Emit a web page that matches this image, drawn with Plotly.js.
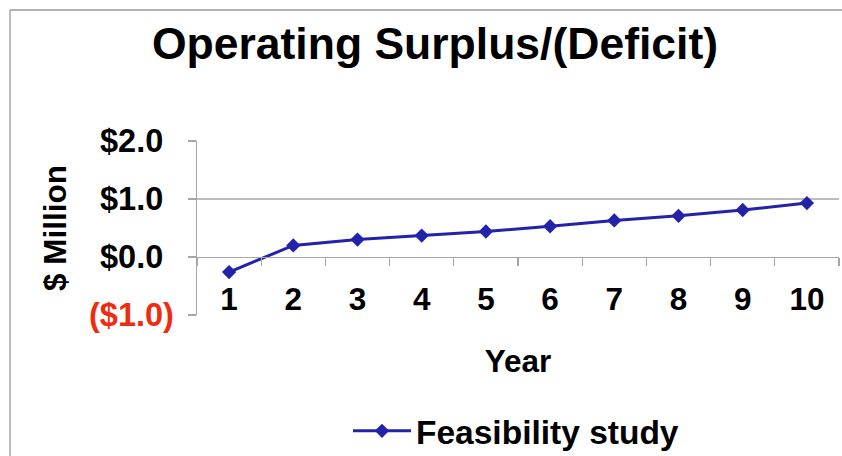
<!DOCTYPE html>
<html>
<head>
<meta charset="utf-8">
<script src="https://cdn.plot.ly/plotly-3.0.1.min.js"></script>
<style>html,body{margin:0;padding:0;background:#fff;}#chart{width:842px;height:456px;}</style>
</head>
<body>
<div id="chart"></div>
<script>
var years = ['1','2','3','4','5','6','7','8','9','10'];
var surplus = [-0.26, 0.20, 0.30, 0.37, 0.44, 0.53, 0.63, 0.71, 0.81, 0.93];
var seriesName = 'Feasibility study';
var yTickVals = [-1, 0, 1, 2];
var yTickText = ['($1.0)', '$0.0', '$1.0', '$2.0'];
var yTickColors = ['#F02C10', '#000000', '#000000', '#000000'];

var W = 842, H = 456;
var M = {l: 197, r: 3, t: 141, b: 141, autoexpand: false};
var pw = W - M.l - M.r, ph = H - M.t - M.b;
function px2x(px){ return (px - M.l) / pw; }
function py2y(py){ return (H - M.b - py) / ph; }

var FONT = 'Liberation Sans, Arial, Helvetica, sans-serif';
var GRAY = '#a6a6a6';

var trace = {
  x: years, y: surplus, type: 'scatter', mode: 'lines+markers', name: seriesName,
  line: {color: '#2222AA', width: 3},
  marker: {symbol: 'diamond', size: 11, color: '#2222AA'}
};

var annotations = yTickVals.map(function(v, i){
  return {xref: 'paper', yref: 'y', x: px2x(131), y: v, xanchor: 'center', yanchor: 'middle',
    text: yTickText[i], showarrow: false,
    font: {family: FONT, size: 32.5, weight: 'bold', color: yTickColors[i]}};
});

var layout = {
  width: W, height: H, margin: M,
  paper_bgcolor: '#fff', plot_bgcolor: '#fff',
  font: {family: FONT, color: '#000'},
  title: {text: 'Operating Surplus/(Deficit)', xref: 'container', yref: 'container',
    x: 435 / W, y: 1 - 43 / H, xanchor: 'center', yanchor: 'middle',
    font: {family: FONT, size: 44.5, weight: 'bold', color: '#000'}},
  xaxis: {
    type: 'category', range: [-0.5, years.length - 0.5], autorange: false,
    anchor: 'free', position: py2y(257),
    showline: true, linecolor: GRAY, linewidth: 1.3,
    ticks: 'outside', tickson: 'boundaries', ticklen: 8, tickcolor: GRAY, tickwidth: 1.3,
    showgrid: false, zeroline: false,
    tickfont: {family: FONT, size: 31.5, weight: 'bold', color: '#000'},
    ticklabelstandoff: 14,
    title: {text: 'Year', font: {family: FONT, size: 31.5, weight: 'bold', color: '#000'}, standoff: 34}
  },
  yaxis: {
    range: [-1, 2], tickvals: yTickVals, showticklabels: false,
    showline: true, linecolor: GRAY, linewidth: 1.3,
    ticks: 'outside', ticklen: 8, tickcolor: GRAY, tickwidth: 1.3,
    showgrid: false, zeroline: false,
    title: {text: '$ Million', font: {family: FONT, size: 31.5, weight: 'bold', color: '#000'}, standoff: 111}
  },
  showlegend: true,
  legend: {orientation: 'h', xref: 'container', yref: 'container', x: 348 / W, y: 1 - 431 / H,
    xanchor: 'left', yanchor: 'middle',
    itemwidth: 58, font: {family: FONT, size: 33.5, weight: 'bold', color: '#000'}, bgcolor: 'rgba(0,0,0,0)'},
  annotations: annotations,
  shapes: [
    {type: 'line', xref: 'paper', yref: 'y', x0: 0, x1: 1, y0: 1, y1: 1, line: {color: GRAY, width: 1.3}, layer: 'below'},
    {type: 'line', xref: 'paper', yref: 'paper', x0: px2x(10), x1: px2x(842), y0: py2y(10), y1: py2y(10), line: {color: '#999', width: 1.3}},
    {type: 'line', xref: 'paper', yref: 'paper', x0: px2x(10), x1: px2x(10), y0: py2y(10), y1: py2y(456), line: {color: '#999', width: 1.3}}
  ]
};

Plotly.newPlot('chart', [trace], layout, {displayModeBar: false, staticPlot: true});
</script>
</body>
</html>
